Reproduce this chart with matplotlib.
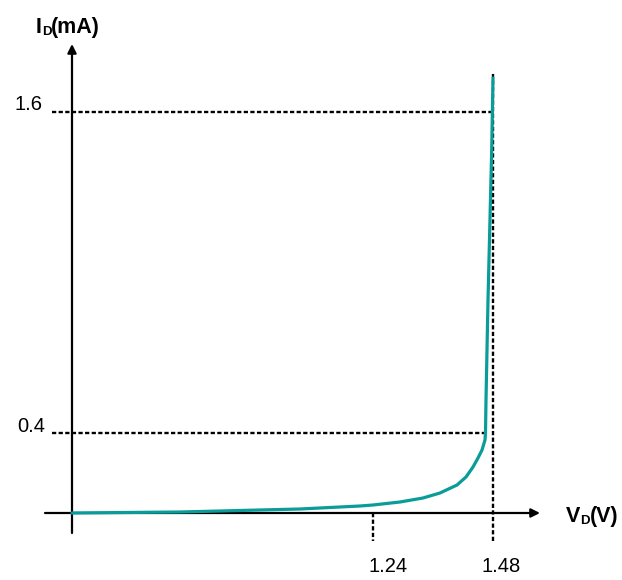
import matplotlib.pyplot as plt

plt.rcParams['font.family'] = ['Liberation Sans', 'DejaVu Sans']

# schematic diode curve, in drawing units (origin where the axes cross)
curve_x = [0, 108, 228, 288, 301, 328, 351, 368, 385, 394, 401, 406, 410, 413,
           413.5, 414, 416, 419.7, 421]
curve_y = [0, 1, 4, 7, 8, 11, 15, 20, 28, 36, 46, 55, 63, 73,
           80, 113, 213, 363, 435]

# marked points: label and where they sit on the drawing
v_labels = ['1.24', '1.48']
v_pos = [301, 421]
i_labels = ['0.4', '1.6']
i_pos = [80, 401]
i_ends = [413.5, 421]  # where the horizontal guide lines stop

teal = '#0a9c98'

fig = plt.figure(figsize=(6.22, 5.8), dpi=100)
ax = fig.add_axes([0, 0, 1, 1])
ax.set_xlim(-72, 550)
ax.set_ylim(-67, 513)
ax.axis('off')

# axes with arrow heads
arrow = dict(arrowstyle='-|>', lw=1.6, color='black', mutation_scale=13,
             shrinkA=0, shrinkB=0)
ax.annotate('', xy=(0, 469), xytext=(0, -20), arrowprops=arrow)
ax.annotate('', xy=(468, 0), xytext=(-27, 0), arrowprops=arrow)

# dashed guide lines
dash = dict(color='black', lw=1.7, linestyle=(0, (1.8, 1.0)))
ax.plot([v_pos[0], v_pos[0]], [0, -28], **dash)
ax.plot([v_pos[1], v_pos[1]], [-28, 440], **dash)
for yv, xe in zip(i_pos, i_ends):
    ax.plot([-20, xe], [yv, yv], **dash)

# the curve
ax.plot(curve_x, curve_y, color=teal, lw=2.3, solid_capstyle='round', zorder=3)

# tick labels
ax.text(v_pos[0] + 15, -53, v_labels[0], fontsize=14.5, ha='center', va='center')
ax.text(v_pos[1] + 8, -53, v_labels[1], fontsize=14.5, ha='center', va='center')
ax.text(-41, i_pos[0] + 7, i_labels[0], fontsize=14.5, ha='center', va='center')
ax.text(-43, i_pos[1] + 8, i_labels[1], fontsize=14.5, ha='center', va='center')


def sub_label(x, y, big, small, rest):
    """Text like I_D(mA) with the small letter sitting on the baseline"""
    t1 = ax.text(x, y, big, fontsize=15.5, fontweight='bold', ha='left', va='bottom')
    t2 = ax.annotate(small, xy=(1, 0), xycoords=t1, fontsize=9.5,
                     fontweight='bold', ha='left', va='bottom')
    ax.annotate(rest, xy=(1, 0), xycoords=t2, fontsize=15.5,
                fontweight='bold', ha='left', va='bottom')


sub_label(-36, 475, 'I', 'D', '(mA)')
sub_label(494, -14, 'V', 'D', '(V)')

fig.savefig('out.png', dpi=100)
